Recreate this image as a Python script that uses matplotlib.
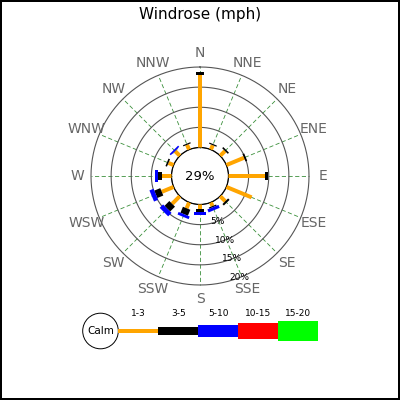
import numpy as np
import matplotlib
matplotlib.use("Agg")
import matplotlib.pyplot as plt
from matplotlib.patches import Circle, Rectangle

# data
directions = ["N", "NNE", "NE", "ENE", "E", "ESE", "SE", "SSE",
              "S", "SSW", "SW", "WSW", "W", "WNW", "NW", "NNW"]
speed_bins = ["1-3", "3-5", "5-10", "10-15", "15-20"]
bin_colors = ["orange", "black", "blue", "red", "#00ff00"]
calm_pct = 29

# percent per direction for each speed bin
s1_3 = [18.0, 1.2, 1.7, 4.75, 9.0, 6.8, 1.8, 1.0, 1.05, 1.6, 2.7, 3.2, 2.4, 1.4, 1.6, 1.3]
s3_5 = [0.8, 0.3, 0.4, 0.45, 0.8, 0.0, 0.5, 0.3, 0.85, 1.6, 1.7, 1.6, 0.9, 0.4, 0.1, 0.3]
s5_10 = [0.0, 0.0, 0.0, 0.0, 0.0, 0.0, 0.0, 0.8, 0.8, 0.7, 1.2, 1.1, 0.8, 0.0, 0.4, 0.0]
s10_15 = [0.0] * 16
s15_20 = [0.0] * 16
series = [s1_3, s3_5, s5_10, s10_15, s15_20]

ring_vals = [5, 10, 15, 20]

fig = plt.figure(figsize=(4, 4), dpi=100)
fig.patch.set_edgecolor("black")
fig.patch.set_linewidth(1.5)

# polar axes: centre at (200,176) px, radius 109 px, calm circle ~28.5 px
R = 109
cx, cy = 200, 176
ax = fig.add_axes([(cx - R) / 400, (400 - cy - R) / 400, 2 * R / 400, 2 * R / 400],
                  projection="polar")
ax.set_theta_zero_location("N")
ax.set_theta_direction(-1)
ax.set_ylim(0, 20)
ax.set_rorigin(-7.08)
ax.set_xticks([])
ax.set_yticks([])
ax.grid(False)
ax.spines["polar"].set_visible(False)
ax.patch.set_alpha(0)

thetas = np.deg2rad(np.arange(16) * 22.5)
circ = np.linspace(0, 2 * np.pi, 361)

# radial dashed lines
for th in thetas:
    ax.plot([th, th], [0, 20], color="#3a8f3a", lw=0.6, ls=(0, (5, 3)), zorder=1,
            clip_on=False)

# rings (calm circle + percent rings)
ax.plot(circ, np.zeros_like(circ), color="#555555", lw=0.8, zorder=2, clip_on=False)
for rv in ring_vals:
    ax.plot(circ, np.full_like(circ, rv), color="#555555", lw=0.8, zorder=2, clip_on=False)
    ax.text(np.deg2rad(159), rv, f"{rv}%", ha="center", va="center",
            fontsize=6.5, color="black", zorder=5)

# bars
widths_px = [4, 8, 12, 16, 20]
for i, th in enumerate(thetas):
    base = 0.0
    for k, s in enumerate(series):
        v = s[i]
        if v > 0:
            ax.plot([th, th], [base, base + v], color=bin_colors[k],
                    lw=widths_px[k] * 0.72, solid_capstyle="butt", zorder=3 + k * 0.1)
        base += v

# direction labels
for th, d in zip(thetas, directions):
    ax.text(th, 23.4, d, ha="center", va="center", fontsize=10, color="#666666")

# overlay axes in pixel coordinates
ov = fig.add_axes([0, 0, 1, 1])
ov.set_xlim(0, 400)
ov.set_ylim(400, 0)
ov.axis("off")
ov.patch.set_alpha(0)

ov.text(cx, cy, f"{calm_pct}%", ha="center", va="center", fontsize=9.5)
fig.text(0.5, 1 - 14 / 400, "Windrose (mph)", ha="center", va="center", fontsize=11)

# legend
ov.add_patch(Circle((100.5, 331), 17.8, facecolor="white", edgecolor="black", lw=0.7))
ov.text(100.5, 331, "Calm", ha="center", va="center", fontsize=7.5)
x0 = 118.3
for k, lab in enumerate(speed_bins):
    h = widths_px[k]
    ov.add_patch(Rectangle((x0 + 40 * k, 331 - h / 2), 40, h,
                           facecolor=bin_colors[k], edgecolor="none"))
    ov.text(x0 + 40 * k + 20, 314, lab, ha="center", va="center", fontsize=6.5)

fig.savefig("out.png", dpi=100, edgecolor=fig.get_edgecolor())
